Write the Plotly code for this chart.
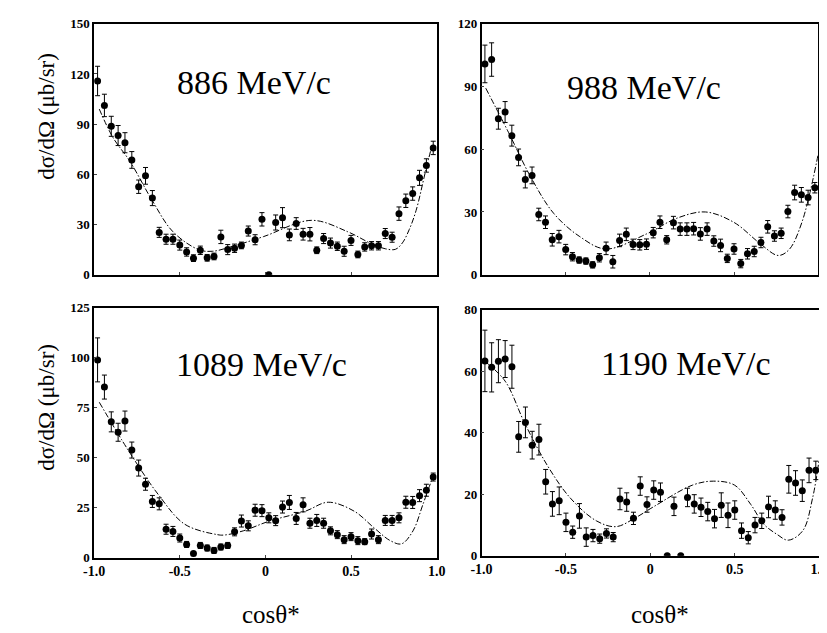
import plotly.graph_objects as go

# bin centres (cos theta*)
COS = [-0.98, -0.94, -0.90, -0.86, -0.82, -0.78, -0.74, -0.70, -0.66, -0.62,
       -0.58, -0.54, -0.50, -0.46, -0.42, -0.38, -0.34, -0.30, -0.26, -0.22,
       -0.18, -0.14, -0.10, -0.06, -0.02, 0.02, 0.06, 0.10, 0.14, 0.18,
       0.22, 0.26, 0.30, 0.34, 0.38, 0.42, 0.46, 0.50, 0.54, 0.58,
       0.62, 0.66, 0.70, 0.74, 0.78, 0.82, 0.86, 0.90, 0.94, 0.98]

# 886 MeV/c
y886 = [115.8, 101.2, 88.7, 83.2, 78.9, 68.6, 52.6, 59.1, 45.8, 25.3,
        21.2, 21.2, 17.7, 13.6, 9.9, 14.6, 10.1, 10.9, 22.6, 15.0,
        15.8, 17.5, 26.1, 20.9, 33.1, 0.0, 31.2, 34.1, 23.8, 30.6,
        24.2, 24.2, 14.6, 21.6, 18.9, 17.0, 14.0, 20.5, 12.1, 16.6,
        17.3, 17.3, 24.6, 22.4, 36.5, 44.2, 48.5, 57.9, 65.3, 75.8]
e886 = [8.8, 6.7, 6, 6, 6, 5, 4, 5, 4.5, 3,
        3, 3, 3, 2.5, 2, 2.5, 2, 2, 4, 3,
        2.5, 2, 3, 3, 4, 0, 4.5, 6, 3.5, 3.5,
        3.5, 4, 2, 3, 3, 2.5, 3, 3, 2, 2.5,
        2.5, 2.5, 3, 3, 4, 4, 4, 4.5, 4, 4]
c886_x = [-0.97, -0.89, -0.79, -0.66, -0.54, -0.39, -0.31, -0.19, -0.01, 0.27,
          0.48, 0.61, 0.70, 0.76, 0.80, 0.84, 0.88, 0.935, 0.973]
c886_y = [99, 82, 67.6, 44.2, 25.7, 15, 14, 17, 22.8, 32.5,
          25.7, 19, 15.5, 15.2, 19, 27, 38.4, 61.8, 77.4]

# 988 MeV/c
y988 = [100.8, 102.9, 74.6, 77.8, 66.5, 56.1, 45.5, 47.5, 28.8, 25.1,
        16.7, 18.2, 12.0, 8.6, 7.0, 6.5, 4.7, 8.1, 12.6, 6.2,
        16.4, 19.3, 14.5, 14.3, 14.6, 20.1, 25.1, 16.7, 24.9, 21.8,
        21.8, 22.0, 19.5, 21.8, 16.1, 14.0, 7.8, 12.3, 5.3, 10.0,
        11.1, 15.4, 22.9, 18.5, 19.8, 30.2, 39.3, 38.2, 36.9, 41.6]
e988 = [9, 8, 5, 5, 5, 4, 4, 4, 3, 3,
        3, 3, 2.5, 2, 1.5, 1.5, 1.5, 2, 3, 3,
        3, 3, 2.5, 2.5, 2.5, 2.5, 3, 2, 3, 3,
        3, 3, 3, 3, 2.5, 3, 2, 2.5, 2, 2.5,
        2.5, 2.5, 3, 2.5, 2.5, 3, 3.5, 3.5, 3.5, 2.5]
c988_x = [-0.975, -0.84, -0.705, -0.57, -0.416, -0.262, -0.02, 0.16, 0.33,
          0.50, 0.653, 0.762, 0.827, 0.903, 0.999]
c988_y = [89.2, 68.1, 46.3, 29.2, 18.2, 12.3, 19.5, 27.0, 30.0,
          25.0, 15.0, 9.2, 12, 25.0, 57.2]

# 1089 MeV/c
y1089 = [99.0, 85.4, 68.0, 62.8, 68.4, 53.9, 44.9, 36.8, 28.2, 27.0,
         14.3, 13.2, 9.9, 6.7, 2.1, 6.2, 4.9, 3.7, 5.4, 6.2,
         13.0, 18.4, 16.0, 23.8, 23.6, 20.0, 18.6, 25.4, 27.7, 19.7,
         26.5, 17.3, 18.7, 17.3, 13.5, 11.6, 9.1, 10.6, 8.6, 8.1,
         11.9, 9.1, 18.7, 18.7, 20.0, 27.8, 27.7, 31.1, 33.8, 40.4]
e1089 = [11, 6, 5, 4.5, 5, 4, 4, 3, 3, 3,
         2.5, 2.5, 2, 1.5, 1, 1.5, 1.5, 1.5, 1.5, 1.5,
         2, 3, 2.5, 3, 3, 2.5, 2.5, 3, 3.5, 3,
         3.5, 2.5, 3, 2.5, 2, 2, 2, 2, 2, 1.5,
         2.5, 2, 2.5, 2.5, 2.5, 3, 3, 3, 3, 2]
c1089_x = [-0.97, -0.795, -0.624, -0.471, -0.281, -0.24, -0.129, 0.024, 0.233,
           0.367, 0.519, 0.633, 0.729, 0.795, 0.862, 0.919, 0.98]
c1089_y = [77.8, 53, 31.5, 16.8, 11.6, 11.4, 13.5, 18.4, 23.3,
           27.8, 23.3, 15.1, 8.6, 7, 13.5, 26.5, 41.2]

# 1190 MeV/c
y1190 = [63.4, 61.3, 63.3, 64.0, 61.5, 38.7, 43.4, 36.0, 37.8, 24.1,
         16.9, 17.9, 10.9, 7.7, 13.0, 6.1, 6.6, 5.6, 7.3, 6.1,
         18.5, 17.5, 12.2, 22.7, 16.7, 21.4, 20.7, 0.0, 16.1, 0.0,
         19.0, 16.9, 15.8, 14.4, 12.1, 16.5, 13.2, 14.9, 8.2, 5.9,
         10.0, 11.4, 15.9, 14.9, 12.5, 24.9, 23.7, 21.2, 27.8, 27.8]
e1190 = [10, 8, 7, 6, 7, 5, 5, 4.5, 5, 4,
         4, 4.5, 3, 2, 4, 3, 2, 1.5, 1.5, 1.5,
         3.5, 3, 2, 3, 2.5, 3, 3, 0, 3, 0,
         3, 3, 3, 3, 3, 4, 4, 3, 2.5, 2,
         2.5, 2.5, 3.5, 3, 2.5, 4.5, 4, 3.5, 4, 3]
c1190_x = [-0.975, -0.86, -0.744, -0.609, -0.474, -0.32, -0.204, -0.088, 0.02,
           0.249, 0.374, 0.499, 0.595, 0.672, 0.75, 0.817, 0.903, 0.961, 1.0]
c1190_y = [63, 56.8, 43.1, 29.3, 18.8, 11.4, 9.5, 12.4, 16.0,
           23, 24.3, 23, 16.7, 10.3, 7, 5.1, 8.2, 18.8, 31.4]

LABELS = ["886 MeV/c", "988 MeV/c", "1089 MeV/c", "1190 MeV/c"]
YMAX = [150, 120, 125, 80]
YDTICK = [30, 30, 25, 20]
XTICKVALS = [-1.0, -0.5, 0, 0.5, 1.0]
XTICKTEXT = ["-1.0", "-0.5", "0", "0.5", "1.0"]

panels = [
    (y886, e886, c886_x, c886_y),
    (y988, e988, c988_x, c988_y),
    (y1089, e1089, c1089_x, c1089_y),
    (y1190, e1190, c1190_x, c1190_y),
]

W, H = 827, 633
# pixel boxes (x0, x1, ytop, ybottom)
boxes = [(77, 428, 9, 266), (474, 819, 9, 266), (77, 428, 300, 556), (474, 820, 302, 554)]

SERIF = "Liberation Serif"
fig = go.Figure()
layout = dict(width=W, height=H, margin=dict(l=0, r=0, t=0, b=0),
              paper_bgcolor="white", plot_bgcolor="white", showlegend=False)

for i, ((yv, ev, cx, cy), box) in enumerate(zip(panels, boxes)):
    n = "" if i == 0 else str(i + 1)
    xa, ya = "x" + n, "y" + n
    fig.add_trace(go.Scatter(x=cx, y=cy, mode="lines", xaxis=xa, yaxis=ya,
                             line=dict(color="black", width=1, dash="6px,2px,1.5px,2px", shape="spline", smoothing=1.0),
                             hoverinfo="skip"))
    fig.add_trace(go.Scatter(x=COS, y=yv, mode="markers", xaxis=xa, yaxis=ya,
                             marker=dict(color="black", size=7),
                             error_y=dict(type="data", array=ev, visible=True, color="black", thickness=1, width=2.5)))
    x0, x1, yt, yb = box
    bottom_row = i >= 2
    layout["xaxis" + n] = dict(domain=[x0 / W, x1 / W], range=[-1, 1], anchor=ya,
                               showline=True, mirror=True, linecolor="black", linewidth=1.5,
                               showgrid=False, zeroline=False, ticks="inside", ticklen=3,
                               tickvals=XTICKVALS, ticktext=XTICKTEXT,
                               showticklabels=bottom_row,
                               tickfont=dict(family=SERIF, size=14, color="black", weight="bold"))
    layout["yaxis" + n] = dict(domain=[(H - yb) / H, (H - yt) / H], range=[0, YMAX[i]], anchor=xa,
                               showline=True, mirror=True, linecolor="black", linewidth=1.5,
                               showgrid=False, zeroline=False, ticks="inside", ticklen=3,
                               dtick=YDTICK[i], tick0=0,
                               tickfont=dict(family=SERIF, size=13, color="black", weight="bold"))

fig.update_layout(**layout)

ann = []
label_pos = [(241, 69), (640, 74), (249, 358), (684, 357)]
for lab, (px, py) in zip(LABELS, label_pos):
    ann.append(dict(text=lab, x=px / W, y=1 - py / H, xref="paper", yref="paper",
                    showarrow=False, xanchor="center", yanchor="middle",
                    font=dict(family=SERIF, size=34, color="black")))
for py in (104, 402):
    ann.append(dict(text="dσ/dΩ (μb/sr)", x=28 / W, y=1 - py / H, xref="paper", yref="paper",
                    showarrow=False, textangle=-90, xanchor="center", yanchor="middle",
                    font=dict(family=SERIF, size=23, color="black")))
for px in (258, 657):
    ann.append(dict(text="cosθ*", x=px / W, y=1 - 614 / H, xref="paper", yref="paper",
                    showarrow=False, xanchor="center", yanchor="middle",
                    font=dict(family=SERIF, size=25, color="black")))
fig.update_layout(annotations=ann)

fig.write_html("out.html")
